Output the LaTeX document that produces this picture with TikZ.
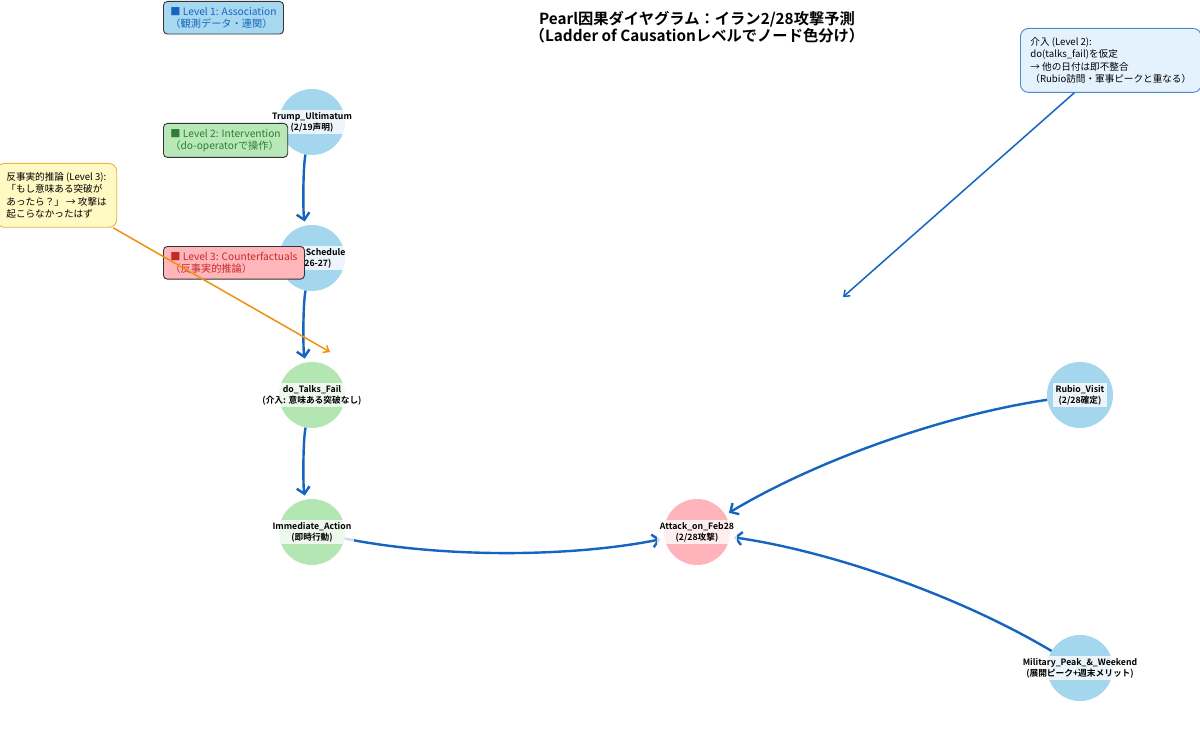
\documentclass[tikz,border=0pt]{standalone}
\usepackage{fontspec}
\setmainfont{Noto Sans CJK JP}[BoldFont=* Bold]
\usetikzlibrary{arrows.meta}
\definecolor{nblue}{HTML}{A4D6EE}
\definecolor{ngreen}{HTML}{B3E6B3}
\definecolor{nred}{HTML}{FFB3BA}
\definecolor{eblue}{HTML}{1565C0}
\definecolor{tgreen}{HTML}{2E7D32}
\definecolor{tred}{HTML}{C62828}
\definecolor{lgblue}{HTML}{A8D8F0}
\definecolor{lggreen}{HTML}{B8E8B8}
\definecolor{lgred}{HTML}{FFB6BA}
\definecolor{noteblue}{HTML}{E3F2FD}
\definecolor{noteblueb}{HTML}{4A88CF}
\definecolor{noteyel}{HTML}{FFF9C4}
\definecolor{noteyelb}{HTML}{F2B33D}
\definecolor{orangearr}{HTML}{F0900F}
\tikzset{
  circ/.style={circle, minimum size=66pt, inner sep=0pt, draw=none},
  lbl/.style={fill=white, fill opacity=0.78, text opacity=1, inner sep=2.5pt, align=center,
    font=\fontsize{8.7}{11}\selectfont\bfseries},
  edge/.style={draw=eblue, line width=2.4pt, shorten >=4pt,
    -{Straight Barb[length=6.5pt,width=13pt]}},
  legend/.style={draw=black!80, line width=0.9pt, rounded corners=4pt, align=left,
    inner xsep=7pt, inner ysep=5.5pt, anchor=north west,
    font=\fontsize{10.2}{12.5}\selectfont},
  note/.style={rounded corners=8pt, line width=0.9pt, align=left, inner xsep=10pt, inner ysep=9pt,
    font=\fontsize{9.6}{12.3}\selectfont},
  notearrow/.style={line width=1.5pt, -{Straight Barb[length=5pt,width=8pt]}}
}
\begin{document}
\begin{tikzpicture}[x=1pt,y=-1pt]
\useasboundingbox (0,0) rectangle (1200,733);
\fill[white] (0,0) rectangle (1200,733);

% title
\node[align=center, font=\fontsize{15.3}{17.5}\selectfont\bfseries] (title) at (697,27)
  {Pearl因果ダイヤグラム：イラン2/28攻撃予測\\（Ladder of Causationレベルでノード色分け）};

% nodes (circles)
\node[circ, fill=nblue] (trump) at (312,122) {};
\node[circ, fill=nblue] (talks) at (312,258) {};
\node[circ, fill=ngreen] (dofail) at (312,395) {};
\node[circ, fill=ngreen] (immed) at (312,532) {};
\node[circ, fill=nred] (attack) at (697,532) {};
\node[circ, fill=nblue] (rubio) at (1080,395) {};
\node[circ, fill=nblue] (milit) at (1080,668) {};

% edges
\draw[edge] (trump) .. controls (302.9,167.3) and (302.9,212.7) .. (talks);
\draw[edge] (talks) .. controls (302.9,303.7) and (302.9,349.3) .. (dofail);
\draw[edge] (dofail) .. controls (302.9,441) and (302.9,486.3) .. (immed);
\draw[edge] (immed) .. controls (440.3,557.7) and (568.7,557.7) .. (attack);
\draw[edge] (rubio) .. controls (943.2,415.1) and (815.5,460.8) .. (attack);
\draw[edge] (milit) .. controls (961.4,597.1) and (833.7,551.8) .. (attack);

% labels
\node[lbl] (trumpl) at (trump) {Trump\_Ultimatum\\(2/19声明)};
\node[lbl] (talksl) at (talks) {Talks\_Schedule\\(2/26-27)};
\node[lbl] (dofaill) at (dofail) {do\_Talks\_Fail\\(介入: 意味ある突破なし)};
\node[lbl] (immedl) at (immed) {Immediate\_Action\\(即時行動)};
\node[lbl] (attackl) at (attack) {Attack\_on\_Feb28\\(2/28攻撃)};
\node[lbl] (rubiol) at (rubio) {Rubio\_Visit\\(2/28確定)};
\node[lbl] (militl) at (milit) {Military\_Peak\_\&\_Weekend\\(展開ピーク+週末メリット)};

% legend
\node[legend, fill=lgblue, text=eblue] (leg1) at (163,1)
  {■ Level 1: Association\\（観測データ・連関）};
\node[legend, fill=lggreen, text=tgreen] (leg2) at (163,123)
  {■ Level 2: Intervention\\（do-operatorで操作）};
\node[legend, fill=lgred, text=tred] (leg3) at (163,246)
  {■ Level 3: Counterfactuals\\（反事実的推論）};

% annotations
\node[note, fill=noteblue, draw=noteblueb, anchor=north west] (note2) at (1020,28)
  {介入 (Level 2):\\do(talks\_fail)を仮定\\→ 他の日付は即不整合\\（Rubio訪問・軍事ピークと重なる）};
\coordinate (tip2) at (843,297);
\draw[notearrow, draw=eblue] (note2) -- (tip2);

\node[note, fill=noteyel, draw=noteyelb, anchor=north west] (note3) at (-4,163)
  {反事実的推論 (Level 3):\\「もし意味ある突破が\\あったら？」 → 攻撃は\\起こらなかったはず};
\coordinate (tip3) at (330,352);
\draw[notearrow, draw=orangearr] (note3) -- (tip3);
\end{tikzpicture}
\end{document}
